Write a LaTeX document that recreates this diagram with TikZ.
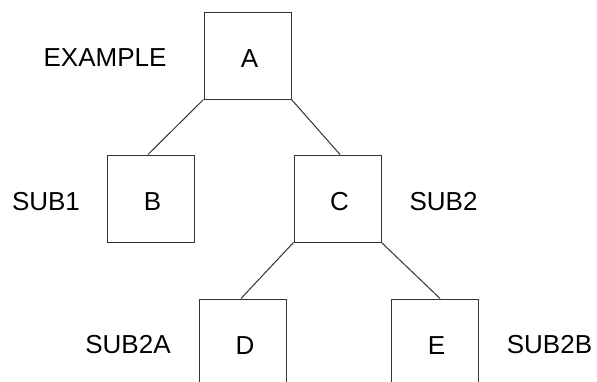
\documentclass[tikz,border=0pt]{standalone}
\usepackage{fontspec}
\setmainfont{Liberation Sans}
\begin{document}
\begin{tikzpicture}[x=1pt,y=-1pt,
  box/.style={draw=black!80,line width=1pt,minimum width=87pt,minimum height=87pt,inner sep=0pt,text height=24.6pt,text depth=0pt,font=\fontsize{26}{30}\selectfont},
  lbl/.style={inner sep=0pt,font=\fontsize{26}{30}\selectfont},
  conn/.style={draw=black!80,line width=1pt}]
\useasboundingbox (0,0) rectangle (597,381);
\clip (0,0) rectangle (597,381);
\node[box] (A) at (247.5,55.5) {\hspace*{4pt}A};
\node[box] (B) at (150.5,198.5) {\hspace*{4pt}B};
\node[box] (C) at (337.5,198.5) {\hspace*{4pt}C};
\node[box] (D) at (243,342.5) {\hspace*{4pt}D};
\node[box] (E) at (434.5,342.5) {\hspace*{4pt}E};
\node[lbl] (lA) at (105,58) {EXAMPLE};
\node[lbl] (lB) at (46,202) {SUB1};
\node[lbl] (lC) at (443.5,202) {SUB2};
\node[lbl] (lD) at (128,345) {SUB2A};
\node[lbl] (lE) at (549.5,345) {SUB2B};
\draw[conn] (A.south west) -- ([xshift=-2.5pt]B.north);
\draw[conn] (A.south east) -- ([xshift=2.5pt]C.north);
\draw[conn] (C.south west) -- ([xshift=-2pt]D.north);
\draw[conn] (C.south east) -- ([xshift=5.5pt]E.north);
\end{tikzpicture}
\end{document}
